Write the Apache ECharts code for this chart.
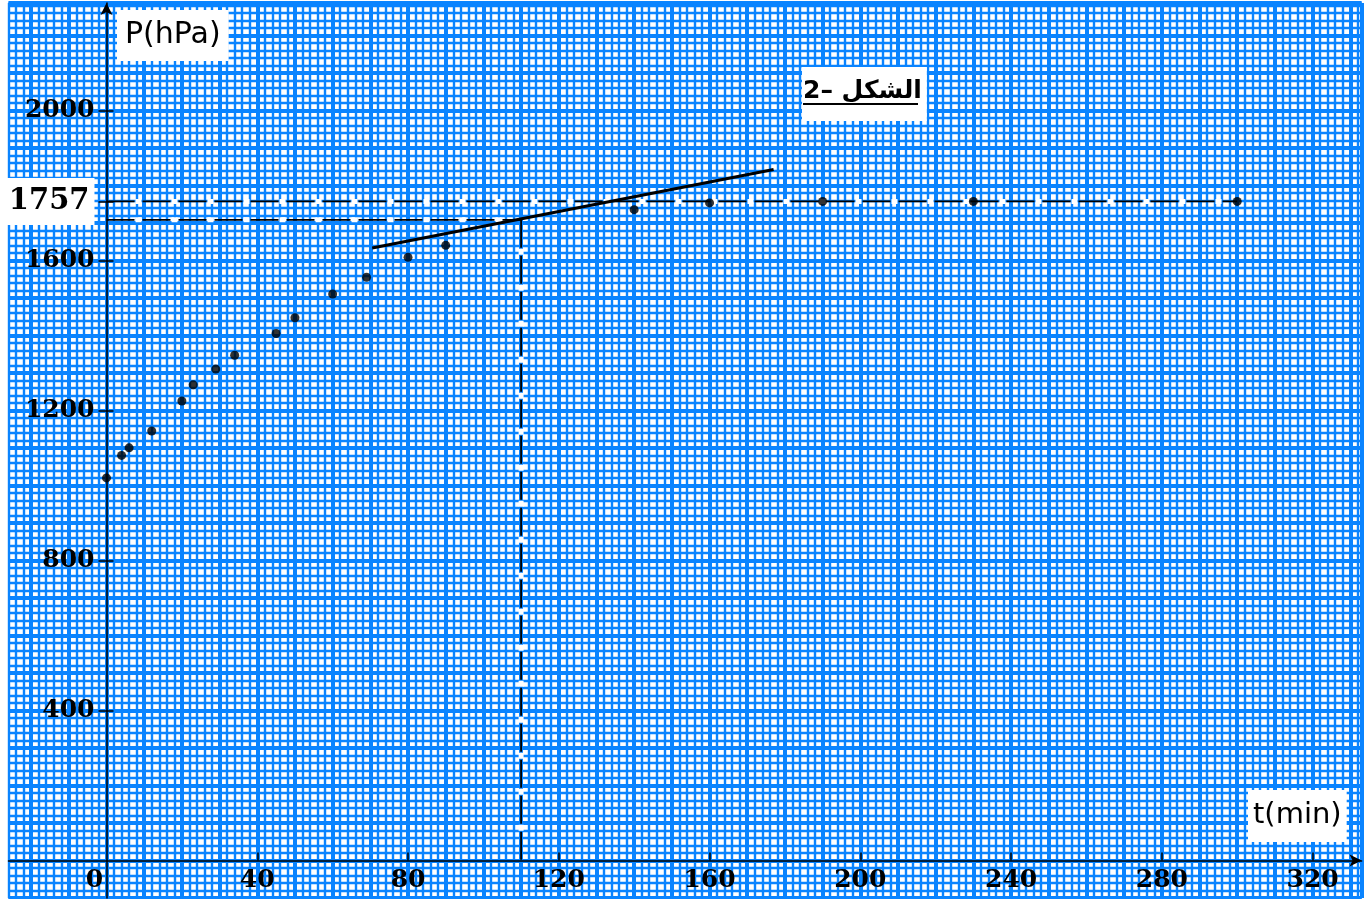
<!DOCTYPE html>
<html>
<head>
<meta charset="utf-8">
<style>
  html, body { margin: 0; padding: 0; background: #fff; }
  #chart { width: 1372px; height: 899px; }
</style>
<script src="https://cdn.jsdelivr.net/npm/echarts@6/dist/echarts.min.js"></script>
</head>
<body>
<div id="chart"></div>
<script>
// measured points P = f(t)
const tValues = [0, 4, 6, 12, 20, 23, 29, 34, 45, 50, 60, 69, 80, 90, 140, 160, 190, 230, 300];
const pValues = [1020, 1080, 1100, 1145, 1225, 1268, 1310, 1347, 1405, 1447, 1510, 1555, 1608, 1640, 1735, 1753, 1757, 1757, 1757];

const xLabels = [0, 40, 80, 120, 160, 200, 240, 280, 320];
const yLabels = [400, 800, 1200, 1600, 2000, 1757];

// asymptote and the tangent reading
const pFinal = 1757, tFinal = 300;
const tTangent = [70.5, 177];
const pTangent = [1633, 1842];
const tRead = 110, pRead = 1708;

// axis ranges (graph paper covers the whole page)
const xMin = -26, xMax = 333;
const yMin = -100, yMax = 2286;
const W = 1372, H = 899;
const gridLeft = 8.5, gridRight = 10.4, gridTop = 3, gridBottom = 1;
const pxPerT = (W - gridLeft - gridRight) / (xMax - xMin);
const pxPerP = (H - gridTop - gridBottom) / (yMax - yMin);
const paperBlue = '#0a84ff';
const farBounds = { left: -400, right: -400, top: -400, bottom: -400 };

function paperAxis(gridIndex, min, max, interval, width) {
    return {
        gridIndex: gridIndex,
        type: 'value',
        min: min,
        max: max,
        interval: interval,
        silent: true,
        z: 0,
        axisLine: { show: false },
        axisTick: { show: false },
        axisLabel: { show: false },
        splitLine: { show: true, lineStyle: { color: paperBlue, width: width } }
    };
}

// black dashes with white blobs in the gaps
function dashed(data) {
    return [{
        type: 'line', data: data, symbol: 'none', silent: true, z: 6,
        lineStyle: { color: '#fff', width: 5, type: [6, 30], dashOffset: 7 }
    }, {
        type: 'line', data: data, symbol: 'none', silent: true, z: 7,
        lineStyle: { color: '#000', width: 1.8, type: [28, 8] }
    }];
}

const labelFont = { fontFamily: 'DejaVu Serif', fontWeight: 'bold', fontSize: 25, color: '#000' };
const black = { color: '#000', width: 1.5 };

const chart = echarts.init(document.getElementById('chart'), null, { renderer: 'canvas' });

const option = {
    animation: false,
    backgroundColor: '#fff',
    title: [{
        text: 'P(hPa)', left: 117, top: 10, padding: [10, 8, 11, 8], backgroundColor: '#fff',
        textStyle: { fontFamily: 'DejaVu Sans', fontWeight: 'normal', fontSize: 30, color: '#000' }
    }, {
        text: 't(min)', left: 1248, top: 790, padding: [11, 5, 12, 5], backgroundColor: '#fff',
        textStyle: { fontFamily: 'DejaVu Sans', fontWeight: 'normal', fontSize: 29, color: '#000' }
    }, {
        text: '2– الشكل', left: 802, top: 67, padding: [12, 5, 17, 1], backgroundColor: '#fff',
        textStyle: { fontFamily: 'DejaVu Sans', fontWeight: 'bold', fontSize: 25, color: '#000' }
    }],
    graphic: [{
        type: 'line', z: 20,
        shape: { x1: 803, y1: 104, x2: 918, y2: 104 },
        style: { stroke: '#000', lineWidth: 2 }
    }],
    grid: [
        // 0: whole page, minor paper + axis lines + data
        { left: gridLeft, right: gridRight, top: gridTop, bottom: gridBottom, outerBounds: farBounds },
        // 1: major vertical paper lines (min must be a multiple of 10)
        { left: gridLeft + (-20 - xMin) * pxPerT, right: gridRight, top: gridTop, bottom: gridBottom, outerBounds: farBounds },
        // 2: quadrant t >= 0, P >= 0, carries the tick labels
        { left: gridLeft + (0 - xMin) * pxPerT, right: gridRight, top: gridTop, bottom: gridBottom + (0 - yMin) * pxPerP, outerBounds: farBounds }
    ],
    xAxis: [{
        gridIndex: 0, type: 'value', min: xMin, max: xMax, z: 5,
        axisLine: { onZero: true, onZeroAxisIndex: 0, symbol: ['none', 'arrow'], symbolSize: [9, 12], lineStyle: black },
        axisTick: { show: true, inside: true, length: 8, customValues: xLabels.slice(1), lineStyle: black },
        axisLabel: { show: false },
        splitLine: { show: false }
    },
        paperAxis(0, xMin, xMax, 2, 2.4),
        paperAxis(1, -20, xMax, 10, 4),
    {
        gridIndex: 2, type: 'value', min: 0, max: xMax, z: 5, position: 'bottom',
        axisLine: { show: false },
        axisTick: { show: false },
        axisLabel: Object.assign({
            customValues: xLabels, margin: 8,
            formatter: function (v) { return v === 0 ? '{o|0}' : String(v); },
            rich: { o: Object.assign({ padding: [0, 24, 0, 0] }, labelFont) }
        }, labelFont),
        splitLine: { show: false }
    }],
    yAxis: [{
        gridIndex: 0, type: 'value', min: yMin, max: yMax, z: 5,
        axisLine: { onZero: true, onZeroAxisIndex: 0, symbol: ['none', 'arrow'], symbolSize: [9, 12], lineStyle: black },
        axisTick: { show: true, length: 8, customValues: yLabels, lineStyle: black },
        axisLabel: { show: false },
        splitLine: { show: false }
    },
        paperAxis(0, yMin, yMax, 20, 2.4),
        paperAxis(0, yMin, yMax, 100, 4),
        { gridIndex: 1, type: 'value', min: yMin, max: yMax, show: false },
    {
        gridIndex: 2, type: 'value', min: 0, max: yMax, z: 5, position: 'left',
        axisLine: { show: false },
        axisTick: { show: true, inside: true, length: 7, customValues: yLabels, lineStyle: black },
        axisLabel: Object.assign({
            customValues: yLabels, margin: 12,
            formatter: function (v) { return v === pFinal ? '{b|' + v + '}' : String(v); },
            rich: {
                b: { fontFamily: 'DejaVu Serif', fontWeight: 'bold', fontSize: 29, color: '#000', backgroundColor: '#fff', padding: [9, 5, 9, 9] }
            }
        }, labelFont),
        splitLine: { show: false }
    }],
    series: [].concat(
        dashed([[0, pFinal], [tFinal, pFinal]]),
        dashed([[0, pRead], [tRead, pRead]]),
        dashed([[tRead, pRead], [tRead, 0]]),
        [{
            type: 'line', silent: true, z: 8, symbol: 'none',
            data: [[tTangent[0], pTangent[0]], [tTangent[1], pTangent[1]]],
            lineStyle: { color: '#000', width: 3 }
        }, {
            type: 'scatter', z: 9, symbol: 'circle', symbolSize: 9,
            itemStyle: { color: '#000' },
            data: tValues.map(function (t, i) { return [t, pValues[i]]; })
        }]
    )
};

chart.setOption(option);
</script>
</body>
</html>
